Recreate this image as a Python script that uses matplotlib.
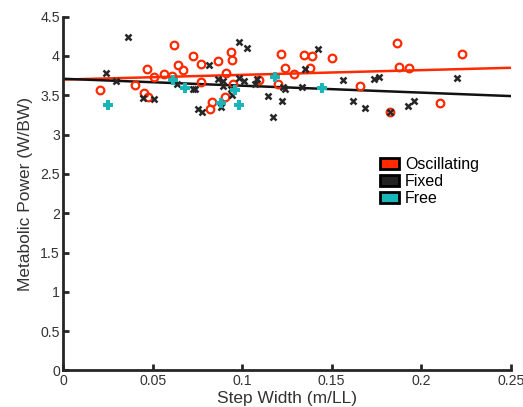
import matplotlib
matplotlib.use("Agg")
import matplotlib.pyplot as plt
from matplotlib.patches import Patch
import numpy as np

plt.rcParams["font.family"] = ["Liberation Sans", "DejaVu Sans"]

# Oscillating (red open circles)
osc_x = [0.0205, 0.0401, 0.0469, 0.0505, 0.0563, 0.0606, 0.0453, 0.0473, 0.0620, 0.0643,
         0.0667, 0.0723, 0.0771, 0.0769, 0.0863, 0.0909, 0.0937, 0.0943, 0.0950, 0.0904,
         0.0833, 0.0821, 0.1094, 0.1215, 0.1237, 0.1198, 0.1345, 0.1388, 0.1500, 0.1289,
         0.1377, 0.1658, 0.1866, 0.1876, 0.1933, 0.2226, 0.2105, 0.1826]
osc_y = [3.567, 3.631, 3.831, 3.729, 3.771, 3.746, 3.525, 3.478, 4.136, 3.889,
         3.818, 4.004, 3.898, 3.665, 3.936, 3.780, 4.055, 3.949, 3.640, 3.482,
         3.415, 3.322, 3.700, 4.029, 3.847, 3.648, 4.012, 4.000, 3.975, 3.766,
         3.842, 3.618, 4.162, 3.864, 3.851, 4.029, 3.402, 3.288]

# Fixed (black x)
fix_x = [0.0362, 0.0240, 0.0293, 0.0447, 0.0507, 0.0637, 0.0983, 0.1025, 0.0816, 0.0725,
         0.0736, 0.0863, 0.0894, 0.0894, 0.0937, 0.0983, 0.1010, 0.0943, 0.0881, 0.0751,
         0.0775, 0.1084, 0.1071, 0.1142, 0.1220, 0.1173, 0.1228, 0.1239, 0.1422, 0.1352,
         0.1336, 0.1565, 0.1738, 0.1766, 0.1617, 0.1688, 0.1826, 0.2200, 0.1928, 0.1961]
fix_y = [4.238, 3.780, 3.686, 3.466, 3.453, 3.640, 4.174, 4.106, 3.889, 3.576,
         3.584, 3.711, 3.686, 3.618, 3.584, 3.724, 3.686, 3.500, 3.351, 3.322,
         3.284, 3.704, 3.640, 3.495, 3.427, 3.220, 3.609, 3.576, 4.093, 3.831,
         3.609, 3.695, 3.711, 3.737, 3.427, 3.342, 3.288, 3.724, 3.360, 3.427]

# Free (cyan plus)
free_x = [0.0251, 0.0615, 0.0682, 0.0959, 0.0881, 0.0983, 0.1185, 0.1444]
free_y = [3.373, 3.695, 3.597, 3.567, 3.398, 3.373, 3.737, 3.597]

# Linear fits (intercept, slope)
osc_fit = (3.70, 0.60)
fix_fit = (3.71, -0.88)

legend_labels = ["Oscillating", "Fixed", "Free"]
red = "#ff2a00"
cyan = "#1ab5b8"
dark = "#262626"

fig = plt.figure(figsize=(5.23, 4.07), dpi=100)
ax = fig.add_axes([0.121, 0.0899, 0.8555, 0.8691])

ax.plot(osc_x, osc_y, linestyle="none", marker="o", markersize=5.5, markerfacecolor="none",
        markeredgecolor=red, markeredgewidth=1.6, zorder=3)
ax.plot(fix_x, fix_y, linestyle="none", marker="x", markersize=4.5,
        color=dark, markeredgewidth=1.8, zorder=3)
ax.plot(free_x, free_y, linestyle="none", marker="P", markersize=7.5,
        color=cyan, markeredgewidth=0, zorder=3)

xl = np.array([0.0, 0.25])
ax.plot(xl, osc_fit[0] + osc_fit[1] * xl, color=red, lw=1.8, zorder=2)
ax.plot(xl, fix_fit[0] + fix_fit[1] * xl, color="#111111", lw=1.8, zorder=2)

ax.set_xlim(0, 0.25)
ax.set_ylim(0, 4.5)
ax.set_xticks([0, 0.05, 0.1, 0.15, 0.2, 0.25])
ax.set_xticklabels(["0", "0.05", "0.1", "0.15", "0.2", "0.25"])
ax.set_yticks([0, 0.5, 1, 1.5, 2, 2.5, 3, 3.5, 4, 4.5])
ax.set_yticklabels(["0", "0.5", "1", "1.5", "2", "2.5", "3", "3.5", "4", "4.5"])
for s in ["top", "right"]:
    ax.spines[s].set_visible(False)
for s in ["left", "bottom"]:
    ax.spines[s].set_linewidth(2)
    ax.spines[s].set_color(dark)
ax.tick_params(direction="in", length=4, width=2, color=dark, labelsize=10.2,
               labelcolor="#333333", pad=2.5)
ax.set_xlabel("Step Width (m/LL)", fontsize=12.5, color="#333333", labelpad=2)
ax.set_ylabel("Metabolic Power (W/BW)", fontsize=12.5, color="#333333", labelpad=5)

handles = [Patch(facecolor=red, edgecolor="black", linewidth=2),
           Patch(facecolor="#222222", edgecolor="black", linewidth=2),
           Patch(facecolor=cyan, edgecolor="black", linewidth=2)]
ax.legend(handles, legend_labels, loc="upper left", bbox_to_anchor=(0.694, 0.621),
          frameon=False, fontsize=11.5, handlelength=1.2, handleheight=0.75,
          handletextpad=0.35, labelspacing=0.12, borderaxespad=0)

fig.savefig("out.png", dpi=100)
